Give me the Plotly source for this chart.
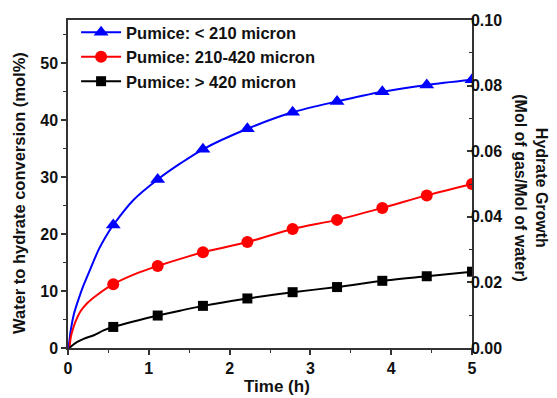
import plotly.graph_objects as go

# Marker positions (h) and values (mol%)
t_mark = [0.56, 1.11, 1.67, 2.22, 2.78, 3.33, 3.89, 4.44, 5.0]
blue_mark = [21.6, 29.6, 34.9, 38.5, 41.4, 43.3, 45.0, 46.2, 47.1]
red_mark = [11.2, 14.4, 16.8, 18.6, 20.9, 22.5, 24.6, 26.8, 28.8]
black_mark = [3.7, 5.7, 7.4, 8.7, 9.8, 10.7, 11.8, 12.6, 13.4]

# Continuous curves
t_blue = [0.0, 0.012, 0.033, 0.074, 0.136, 0.198, 0.28, 0.384, 0.508, 0.56, 0.81, 1.11, 1.4, 1.67, 2.22, 2.78, 3.33, 3.89, 4.44, 5.0]
blue_line = [0.0, 0.7, 3.0, 6.0, 8.8, 11.2, 14.0, 17.4, 20.5, 21.6, 26.0, 29.6, 32.5, 34.9, 38.5, 41.4, 43.3, 45.0, 46.2, 47.1]
t_red = [0.02, 0.033, 0.054, 0.095, 0.157, 0.24, 0.36, 0.56, 0.85, 1.11, 1.4, 1.67, 2.22, 2.78, 3.33, 3.89, 4.44, 5.0]
red_line = [0.0, 1.8, 3.0, 4.7, 6.5, 7.9, 9.3, 11.2, 13.1, 14.4, 15.7, 16.8, 18.6, 20.9, 22.5, 24.6, 26.8, 28.8]
t_black = [0.02, 0.033, 0.115, 0.2, 0.32, 0.44, 0.56, 0.85, 1.11, 1.4, 1.67, 2.22, 2.78, 3.33, 3.89, 4.44, 5.0]
black_line = [0.0, 0.2, 1.06, 1.65, 2.24, 3.1, 3.7, 4.8, 5.7, 6.6, 7.4, 8.7, 9.8, 10.7, 11.8, 12.6, 13.4]

names = ["Pumice: < 210 micron", "Pumice: 210-420 micron", "Pumice: > 420 micron"]
colors = ["#0000FF", "#FF0000", "#000000"]
symbols = ["triangle-up", "circle", "square"]
msizes = [13, 12, 10]

FONT = "Arial, Liberation Sans, sans-serif"
fig = go.Figure()
for name, c, s, ms, tl, yl, ym in zip(names, colors, symbols, msizes,
                                      [t_blue, t_red, t_black],
                                      [blue_line, red_line, black_line],
                                      [blue_mark, red_mark, black_mark]):
    fig.add_trace(go.Scatter(x=tl, y=yl, mode="lines", line=dict(color=c, width=2, shape="spline", smoothing=0.8),
                             showlegend=False, hoverinfo="skip"))
    fig.add_trace(go.Scatter(x=t_mark, y=ym, mode="markers", showlegend=False,
                             marker=dict(symbol=s, size=ms, color=c)))
    # legend entry (line + marker)
    fig.add_trace(go.Scatter(x=[None], y=[None], mode="lines+markers", name="<b>%s</b>" % name,
                             line=dict(color=c, width=2), marker=dict(symbol=s, size=ms, color=c)))

fig.add_trace(go.Scatter(x=[], y=[], yaxis="y2", showlegend=False))

axis_common = dict(showline=True, linecolor="#333333", linewidth=1.5,
                   ticklen=5, tickwidth=1.5, tickcolor="#333333", showgrid=False, zeroline=False,
                   tickfont=dict(family=FONT, size=16, color="#111111"))

x_ticks = [0, 1, 2, 3, 4, 5]
y_ticks = [0, 10, 20, 30, 40, 50]
y2_ticks = [0, 0.02, 0.04, 0.06, 0.08, 0.10]

def minor(dt, side="outside"):
    return dict(dtick=dt, ticks=side, ticklen=3, tickwidth=1.2, tickcolor="#333333")

fig.update_layout(
    width=557, height=398,
    margin=dict(l=68, r=85, t=20, b=50),
    paper_bgcolor="white", plot_bgcolor="white",
    font=dict(family=FONT, size=16, color="#111111"),
    xaxis=dict(range=[0, 5], tickvals=x_ticks, ticktext=["<b>%d</b>" % v for v in x_ticks], mirror=True,
               ticks="outside", minor=minor(0.5), **axis_common),
    yaxis=dict(range=[0, 57.6], tickvals=y_ticks, ticktext=["<b>%d</b>" % v for v in y_ticks],
               ticks="outside", minor=minor(5), **axis_common),
    yaxis2=dict(range=[0, 0.1], overlaying="y", side="right", tickvals=y2_ticks,
                ticktext=["<b>%.2f</b>" % v for v in y2_ticks], ticklabelstandoff=-6,
                ticks="inside", minor=minor(0.01, "inside"), **axis_common),
    legend=dict(x=0.02, y=1.015, xanchor="left", yanchor="top", bgcolor="rgba(0,0,0,0)",
                font=dict(family=FONT, size=16.5, color="#111111"), tracegroupgap=0, itemwidth=40),
    annotations=[
        dict(text="<b>Water to hydrate conversion (mol%)</b>", xref="paper", yref="paper",
             x=-0.121, y=0.473, xanchor="center", yanchor="middle", textangle=-90, showarrow=False,
             font=dict(size=16.5)),
        dict(text="<b>Hydrate Growth</b>", xref="paper", yref="paper",
             x=1.171, y=0.488, xanchor="center", yanchor="middle", textangle=90, showarrow=False,
             font=dict(size=16)),
        dict(text="<b>(Mol of gas/Mol of water)</b>", xref="paper", yref="paper",
             x=1.118, y=0.488, xanchor="center", yanchor="middle", textangle=90, showarrow=False,
             font=dict(size=16)),
        dict(text="<b>Time (h)</b>", xref="paper", yref="paper", x=0.517, y=-0.118,
             xanchor="center", yanchor="middle", showarrow=False, font=dict(size=17)),
    ],
)

fig.write_html("out.html")
